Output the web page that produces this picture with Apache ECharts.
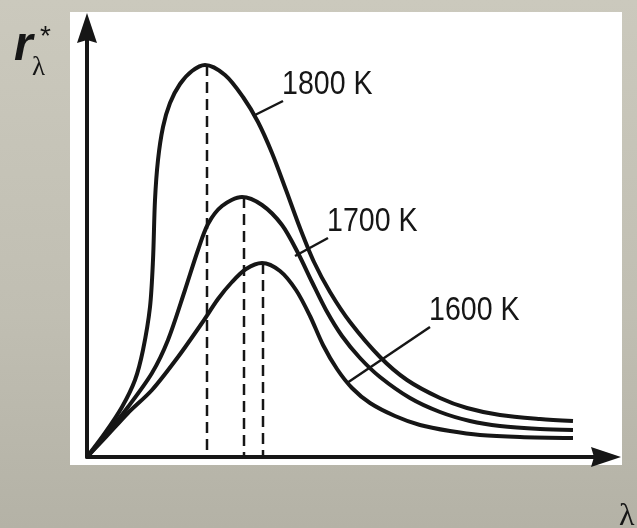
<!DOCTYPE html>
<html>
<head>
<meta charset="utf-8">
<title>Blackbody spectra</title>
<script src="https://cdn.jsdelivr.net/npm/echarts@6/dist/echarts.min.js"></script>
<style>
  html, body { margin: 0; padding: 0; }
  body { background: linear-gradient(180deg, #cbc9bd 0%, #c0beb2 60%, #b4b2a6 100%); }
  #chart { width: 637px; height: 528px; }
</style>
</head>
<body>
<div id="chart"></div>
<script>
// wavelength / spectral radiance, arbitrary units
const lambda1800 = [0, 0.18, 0.35, 0.48, 0.56, 0.63, 0.66, 0.68, 0.71, 0.76, 0.83, 0.93, 1.05, 1.18, 1.38, 1.56, 1.71, 1.85, 1.99, 2.13, 2.27, 2.43, 2.63, 2.93, 3.20, 3.53, 3.80, 4.13, 4.53, 4.86];
const r1800 = [0, 0.24, 0.50, 0.77, 1.07, 1.50, 1.97, 2.57, 2.97, 3.30, 3.54, 3.73, 3.86, 3.92, 3.82, 3.60, 3.35, 3.04, 2.67, 2.29, 1.95, 1.65, 1.35, 1.00, 0.77, 0.59, 0.49, 0.42, 0.38, 0.36];

const lambda1700 = [0, 0.18, 0.41, 0.65, 0.81, 0.98, 1.11, 1.21, 1.35, 1.55, 1.75, 1.95, 2.11, 2.25, 2.39, 2.55, 2.73, 2.93, 3.23, 3.53, 3.83, 4.13, 4.53, 4.86];
const r1700 = [0, 0.21, 0.50, 0.84, 1.17, 1.67, 2.07, 2.33, 2.51, 2.60, 2.52, 2.32, 2.04, 1.75, 1.47, 1.21, 0.99, 0.80, 0.59, 0.45, 0.36, 0.31, 0.28, 0.27];

const lambda1600 = [0, 0.18, 0.41, 0.65, 0.91, 1.15, 1.31, 1.45, 1.59, 1.75, 1.93, 2.09, 2.23, 2.36, 2.50, 2.65, 2.83, 3.08, 3.33, 3.63, 3.93, 4.33, 4.86];
const r1600 = [0, 0.19, 0.44, 0.67, 1.00, 1.34, 1.58, 1.75, 1.88, 1.94, 1.86, 1.67, 1.41, 1.12, 0.88, 0.69, 0.54, 0.41, 0.32, 0.26, 0.22, 0.20, 0.19];

const curveNames = ['1800 K', '1700 K', '1600 K'];
// peak positions (dashed drop lines)
const peakLambda = [1.20, 1.57, 1.76];
const peakR = [3.92, 2.60, 1.94];
// leader lines: start on curve -> end at label
const leaderFrom = [[1.66, 3.41], [2.08, 2.01], [2.60, 0.74]];
const leaderTo = [[1.96, 3.56], [2.41, 2.19], [3.43, 1.30]];

const ink = '#161616';
const zip = (xs, ys) => xs.map((x, i) => [x, ys[i]]);
const curves = [zip(lambda1800, r1800), zip(lambda1700, r1700), zip(lambda1600, r1600)];
const arrowPath = 'path://M10,0L20,30L10,27L0,30Z';

const chart = echarts.init(document.getElementById('chart'));

const series = [];
curves.forEach((data, i) => {
  series.push({
    type: 'line',
    name: curveNames[i],
    data: data,
    smooth: 0.3,
    showSymbol: false,
    lineStyle: { color: ink, width: 4 },
    z: 3
  });
});
peakLambda.forEach((x, i) => {
  series.push({
    type: 'line',
    data: [[x, peakR[i]], [x, 0]],
    showSymbol: false,
    lineStyle: { color: ink, width: 2.5, type: [11, 6] },
    z: 2
  });
});
leaderFrom.forEach((p, i) => {
  series.push({
    type: 'line',
    data: [p, leaderTo[i]],
    showSymbol: false,
    lineStyle: { color: ink, width: 2.5 },
    z: 3
  });
});

const fixedText = [
  { type: 'rect', shape: { x: 70, y: 12, width: 552, height: 453 }, style: { fill: '#ffffff' }, z: -10, silent: true },
  { type: 'text', left: 14, top: 23, style: { text: 'r', font: 'italic bold 48px "Liberation Sans", Arial, sans-serif', fill: ink } },
  { type: 'text', left: 40, top: 23, style: { text: '*', font: '28px "Liberation Sans", Arial, sans-serif', fill: ink } },
  { type: 'text', left: 32, top: 54, style: { text: 'λ', font: '27px "Liberation Serif", serif', fill: ink } },
  { type: 'text', left: 619, top: 501, style: { text: 'λ', font: '32px "Liberation Serif", serif', fill: ink } }
];

chart.setOption({
  animation: false,
  grid: { left: 87, right: 31, top: 28, bottom: 71 },
  graphic: fixedText,
  xAxis: {
    type: 'value',
    min: 0,
    max: 5.19,
    axisLine: { show: true, lineStyle: { color: ink, width: 4 }, symbol: ['none', arrowPath], symbolSize: [25, 30] },
    axisTick: { show: false },
    axisLabel: { show: false },
    splitLine: { show: false }
  },
  yAxis: {
    type: 'value',
    min: 0,
    max: 4.29,
    axisLine: { show: true, lineStyle: { color: ink, width: 4 }, symbol: ['none', arrowPath], symbolSize: [25, 30] },
    axisTick: { show: false },
    axisLabel: { show: false },
    splitLine: { show: false }
  },
  series: series
});

// curve labels sit at the upper end of each leader line (narrowed like the original lettering)
const labelText = leaderTo.map((p, i) => {
  const px = chart.convertToPixel({ gridIndex: 0 }, p);
  return {
    type: 'text',
    x: px[0] - 1,
    y: px[1] - 16,
    scaleX: 0.84,
    style: {
      text: curveNames[i],
      font: '34px "Liberation Sans", Arial, sans-serif',
      fill: ink,
      align: 'left',
      verticalAlign: 'middle'
    }
  };
});
chart.setOption({ graphic: fixedText.concat(labelText) });
</script>
</body>
</html>
